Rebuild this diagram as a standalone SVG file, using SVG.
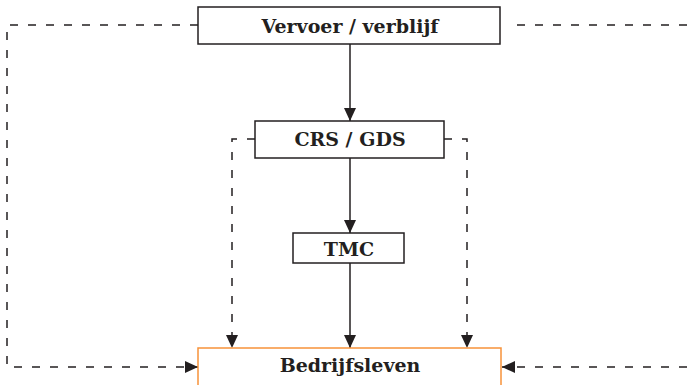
<svg xmlns="http://www.w3.org/2000/svg" width="687" height="385" viewBox="0 0 687 385">
<style>
.box{fill:#fff;stroke:#231f20;stroke-width:1.5}
.org{fill:#fff;stroke:#f7923a;stroke-width:1.5}
.lbl{font-family:"DejaVu Serif","Liberation Serif",serif;font-weight:bold;font-size:19px;fill:#231f20;text-anchor:middle}
.ln{fill:none;stroke:#231f20;stroke-width:1.5}
.dash{fill:none;stroke:#231f20;stroke-width:1.5;stroke-dasharray:8 10}
</style>
<defs>
<marker id="ah" markerWidth="13" markerHeight="12" viewBox="0 0 13 12" refX="13" refY="6" orient="auto" markerUnits="userSpaceOnUse">
<path d="M0,0 L13,6 L0,12 Z" fill="#231f20"/>
</marker>
</defs>
<g id="connectors">
<line class="ln" x1="350" y1="44" x2="350" y2="121" marker-end="url(#ah)"/>
<line class="ln" x1="350" y1="158" x2="350" y2="233" marker-end="url(#ah)"/>
<line class="ln" x1="350" y1="263" x2="350" y2="348" marker-end="url(#ah)"/>
<path class="dash" d="M255,139 H232 V348" marker-end="url(#ah)"/>
<path class="dash" d="M444,139 H467 V348" marker-end="url(#ah)"/>
<path class="dash" d="M198,25 H7 V367 H198" marker-end="url(#ah)"/>
<path class="dash" d="M687,25 H510"/>
<path class="dash" d="M687,367 H502" marker-end="url(#ah)"/>
</g>
<g id="vervoer">
<rect class="box" x="198" y="7" width="302" height="37"/>
<text class="lbl" x="350" y="33">Vervoer / verblijf</text>
</g>
<g id="crs">
<rect class="box" x="255" y="121" width="189" height="37"/>
<text class="lbl" x="350" y="146">CRS / GDS</text>
</g>
<g id="tmc">
<rect class="box" x="293" y="233" width="111" height="30"/>
<text class="lbl" x="349" y="256">TMC</text>
</g>
<g id="bedrijfsleven">
<rect class="org" x="198" y="348" width="303" height="45"/>
<text class="lbl" x="350" y="372">Bedrijfsleven</text>
</g>
</svg>
